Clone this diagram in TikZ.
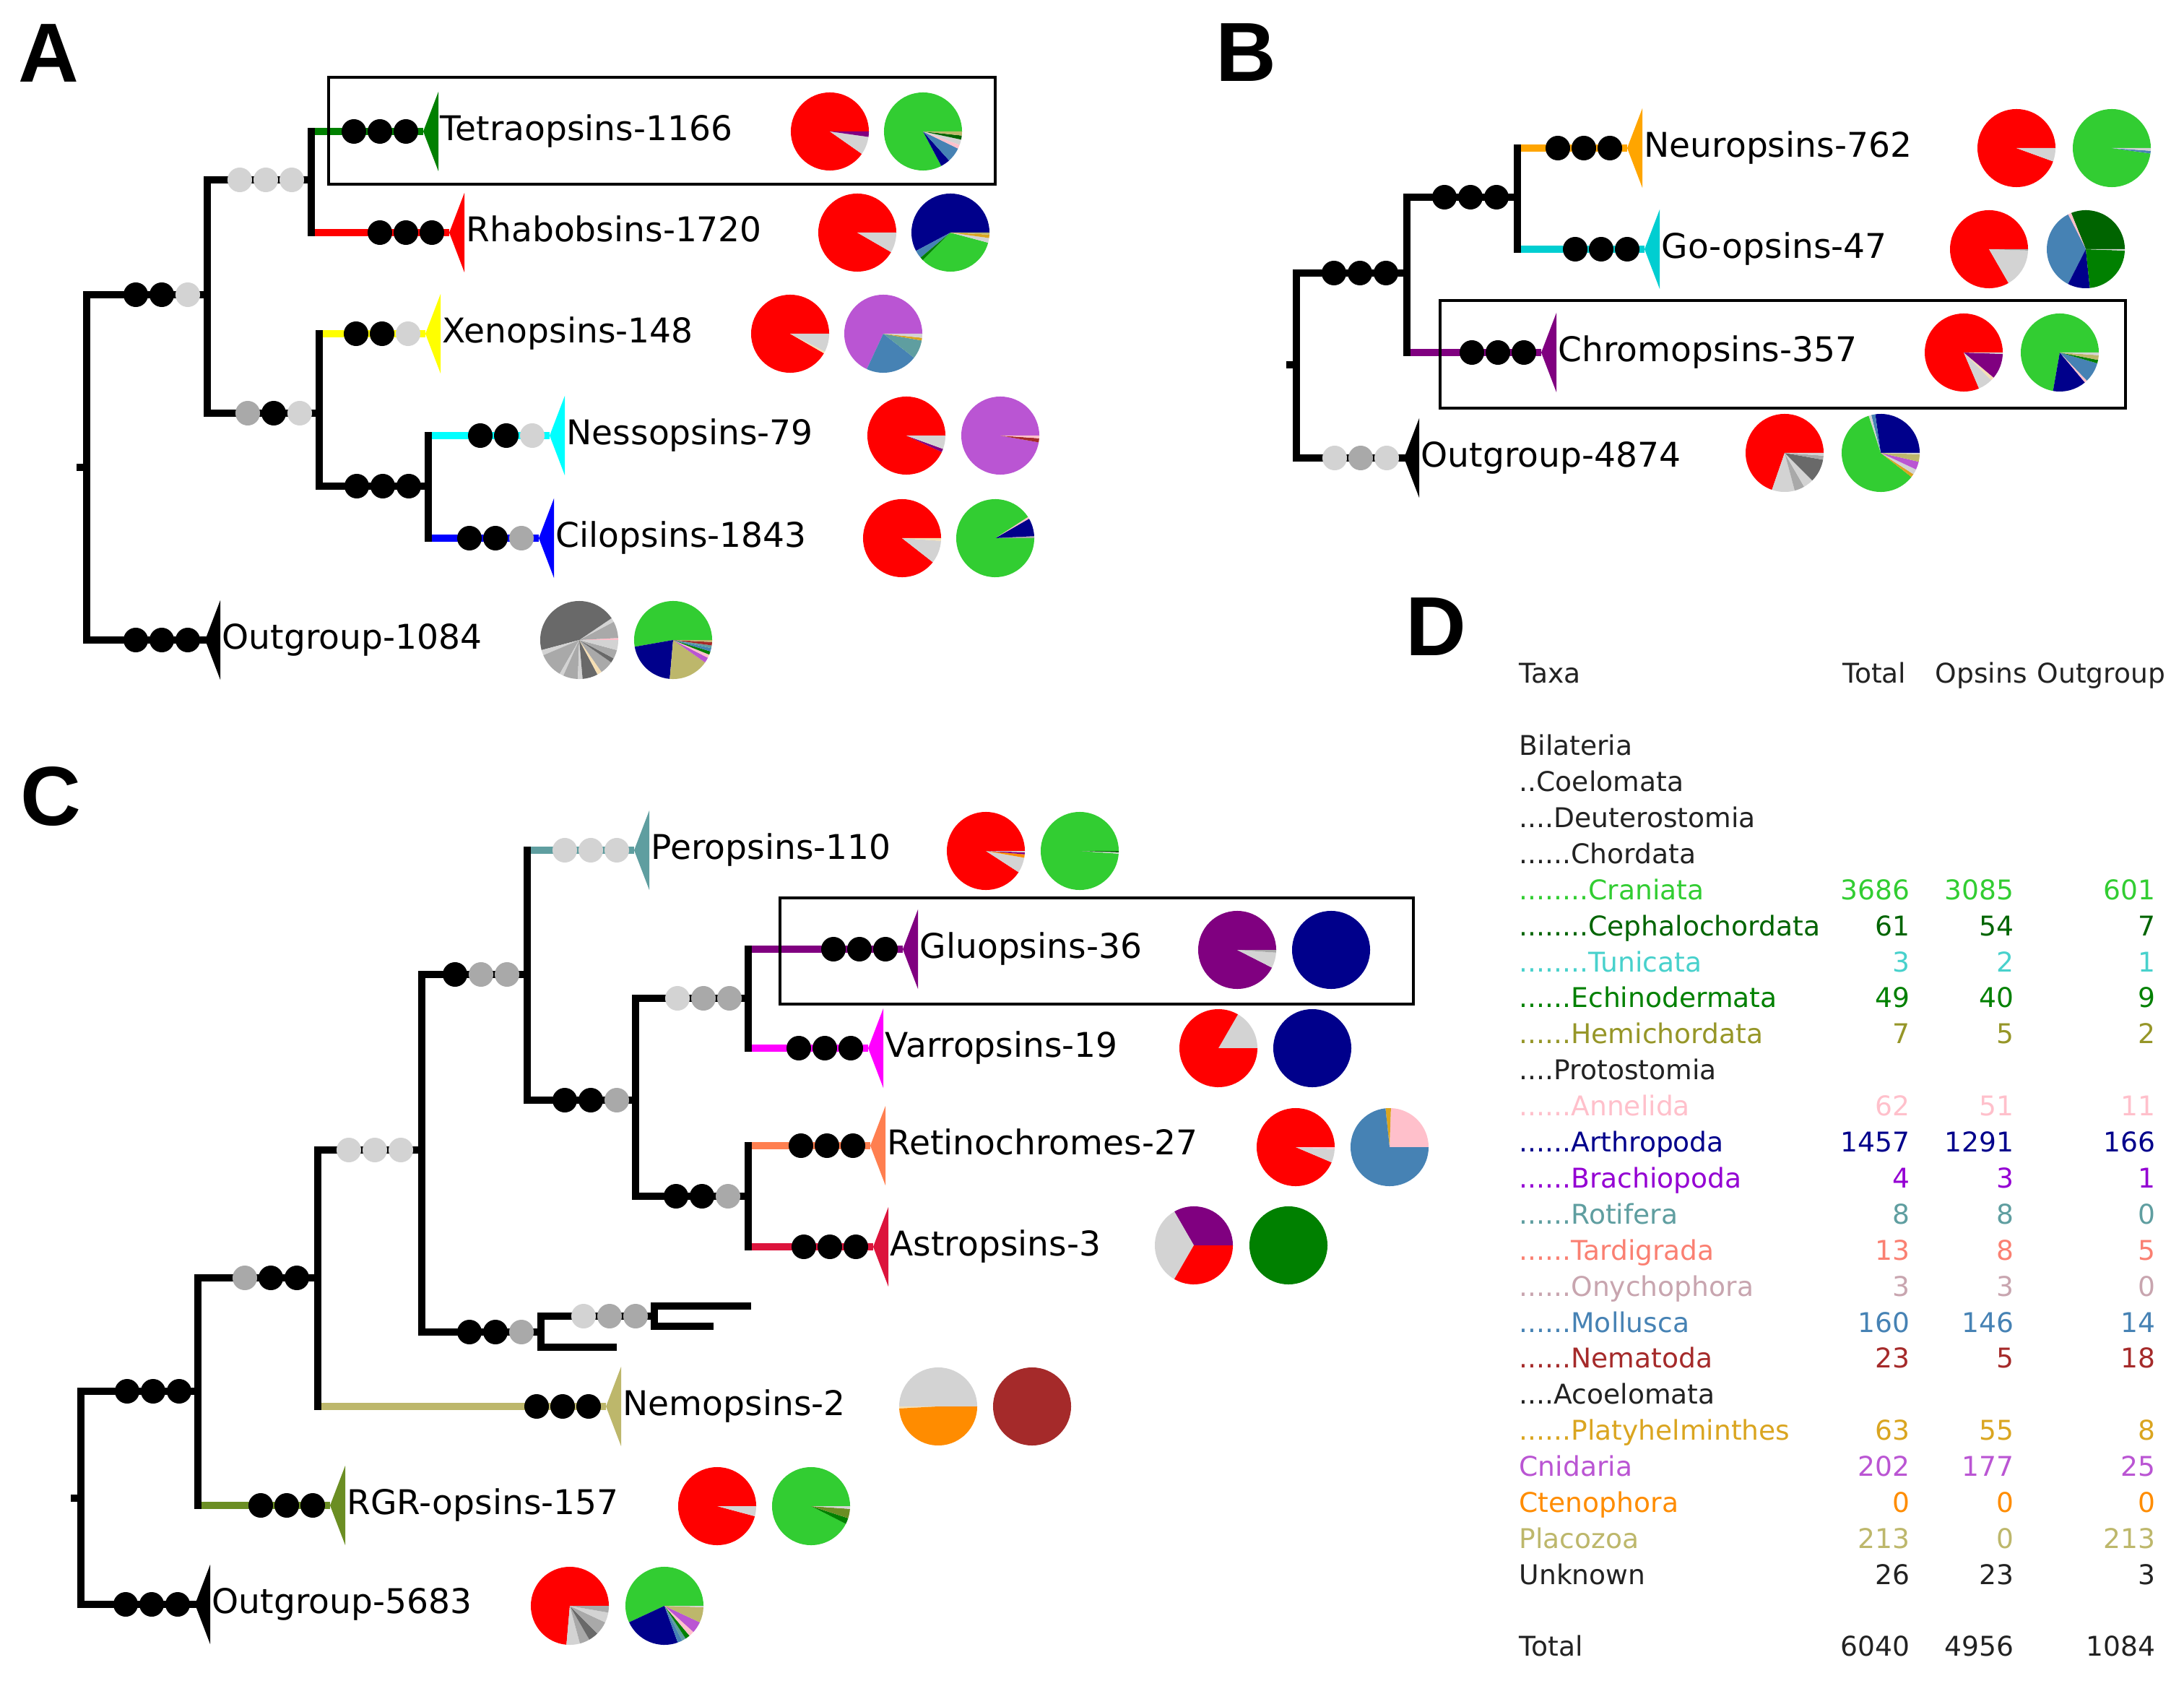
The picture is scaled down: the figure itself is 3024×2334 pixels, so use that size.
\documentclass[tikz,border=0pt]{standalone}
\usepackage{fontspec}
\setmainfont{DejaVu Sans}
\newfontfamily\panelfont{Liberation Sans}
\usepackage{xcolor}
\usetikzlibrary{calc}

\definecolor{tRed}{HTML}{FF0000}
\definecolor{tLime}{HTML}{32CD32}
\definecolor{tNavy}{HTML}{00008B}
\definecolor{tSteel}{HTML}{4682B4}
\definecolor{tOrchid}{HTML}{BA55D3}
\definecolor{tCadet}{HTML}{5F9EA0}
\definecolor{tGold}{HTML}{DAA520}
\definecolor{tPink}{HTML}{FFC0CB}
\definecolor{tBrown}{HTML}{A52A2A}
\definecolor{tPurple}{HTML}{800080}
\definecolor{tDkGreen}{HTML}{006400}
\definecolor{tGreen}{HTML}{008000}
\definecolor{tKhaki}{HTML}{BDB76B}
\definecolor{tOrange}{HTML}{FF8C00}
\definecolor{tLtOrange}{HTML}{FFA500}
\definecolor{tLtGray}{HTML}{D3D3D3}
\definecolor{tGray}{HTML}{A9A9A9}
\definecolor{tDimGray}{HTML}{696969}
\definecolor{tTan}{HTML}{F5DEB3}
\definecolor{tSalmon}{HTML}{FA8072}
\definecolor{tOlive}{HTML}{6B8E23}
\definecolor{tViolet}{HTML}{9400D3}
\definecolor{tTurq}{HTML}{00CED1}
\definecolor{tMedTurq}{HTML}{48D1CC}
\definecolor{tCyan}{HTML}{00FFFF}
\definecolor{tBlue}{HTML}{0000FF}
\definecolor{tYellow}{HTML}{FFFF00}
\definecolor{tMagenta}{HTML}{FF00FF}
\definecolor{tCoral}{HTML}{FF7F50}
\definecolor{tCrimson}{HTML}{DC143C}
\definecolor{tHemi}{RGB}{150,150,40}
\definecolor{tOnych}{RGB}{200,165,175}
\definecolor{tText}{HTML}{222222}

\tikzset{
  branch/.style={line width=0.1cm, line cap=rect},
  stem/.style={line width=0.1cm},
  leaflabel/.style={anchor=west, inner sep=0pt, text height=0.73em, text depth=0pt,
    font=\fontsize{13.4pt}{16pt}\selectfont},
  tablabel/.style={inner sep=0pt, text height=0.73em, text depth=0pt,
    font=\fontsize{10.7pt}{13pt}\selectfont},
  panel/.style={inner sep=0pt, font=\panelfont\bfseries\fontsize{33pt}{36pt}\selectfont},
  hibox/.style={draw=black, line width=0.04cm},
}

% tip triangle, dots before a node, pie from a list of start/end/colour
\newcommand{\tipmark}[2]{\fill[#2] (#1) -- ++(21,-55) -- ++(0,110) -- cycle;}
\newcommand{\dotrow}[5][24]{\foreach \dc [count=\di] in {#3,#4,#5}
  \fill[\dc] (#2) ++({-#1-36*(3-\di)},0) circle[radius=0.17cm];}
\newcommand{\drawpie}[2]{\foreach \pa/\pb/\pc in {#2}
  {\fill[\pc] #1 -- ++(\pa:0.54cm) arc[start angle=\pa, end angle=\pb, radius=0.54cm] -- cycle;}}

\begin{document}
\begin{tikzpicture}[x=0.01cm, y=-0.01cm]
\useasboundingbox (0,0) rectangle (3024,2334);

%%% A
\node[panel] (labA) at (67,74) {A};
\coordinate (a0) at (120,647);
\coordinate (a1) at (287,408);
\coordinate (a2) at (431,249);
\coordinate (a3) at (442,572);
\coordinate (a4) at (593,673);
\coordinate (tetra) at (586,182);
\coordinate (rhab) at (622,322);
\coordinate (xeno) at (589,462);
\coordinate (nesso) at (761,603);
\coordinate (cilo) at (746,745);
\coordinate (outA) at (284,886);
\draw[stem, tGreen] (a2 |- tetra) -- (tetra);
\draw[stem, tRed] (a2 |- rhab) -- (rhab);
\draw[stem, tYellow] (a3 |- xeno) -- (xeno);
\draw[stem, tCyan] (a4 |- nesso) -- (nesso);
\draw[stem, tBlue] (a4 |- cilo) -- (cilo);
\draw[branch] (a0) |- (a1);
\draw[branch] (a0) |- (outA);
\draw[branch] (a1) |- (a2);
\draw[branch] (a1) |- (a3);
\draw[branch] (a2 |- tetra) -- (a2 |- rhab);
\draw[branch] (a3 |- xeno) -- (a3);
\draw[branch] (a3) |- (a4);
\draw[branch] (a4 |- nesso) -- (a4 |- cilo);
\fill ([xshift=-0.14cm, yshift=0.05cm]a0) rectangle ([yshift=-0.05cm]a0);
\dotrow[27]{a1}{black}{black}{tLtGray}
\dotrow[27]{a2}{tLtGray}{tLtGray}{tLtGray}
\dotrow[27]{a3}{tGray}{black}{tLtGray}
\dotrow[27]{a4}{black}{black}{black}
\dotrow{tetra}{black}{black}{black}
\dotrow{rhab}{black}{black}{black}
\dotrow{xeno}{black}{black}{tLtGray}
\dotrow{nesso}{black}{black}{tLtGray}
\dotrow{cilo}{black}{black}{tGray}
\dotrow{outA}{black}{black}{black}
\tipmark{tetra}{tGreen}
\tipmark{rhab}{tRed}
\tipmark{xeno}{tYellow}
\tipmark{nesso}{tCyan}
\tipmark{cilo}{tBlue}
\tipmark{outA}{black}
\node[leaflabel] (tetraT) at ([xshift=0.23cm]tetra) {Tetraopsins-1166};
\node[leaflabel] (rhabT) at ([xshift=0.23cm]rhab) {Rhabobsins-1720};
\node[leaflabel] (xenoT) at ([xshift=0.23cm]xeno) {Xenopsins-148};
\node[leaflabel] (nessoT) at ([xshift=0.23cm]nesso) {Nessopsins-79};
\node[leaflabel] (ciloT) at ([xshift=0.23cm]cilo) {Cilopsins-1843};
\node[leaflabel] (outAT) at ([xshift=0.23cm]outA) {Outgroup-1084};
\drawpie{(1149,182)}{0/325/tRed, 325/352/tLtGray, 352/360/tPurple}
\drawpie{(1278,182)}{0/298/tLime, 298/312/tNavy, 312/334/tSteel, 334/340/tPink, 340/348/tLtGray, 348/354/tDkGreen, 354/360/tKhaki}
\drawpie{(1187,322)}{0/330/tRed, 330/360/tLtGray}
\drawpie{(1316,322)}{0/208/tNavy, 208/220/tSteel, 220/225/tGreen, 225/345/tLime, 345/352/tLtGray, 352/357/tGold, 357/360/tKhaki}
\drawpie{(1094,462)}{0/330/tRed, 330/333/tTan, 333/360/tLtGray}
\drawpie{(1223,462)}{0/245/tOrchid, 245/322/tSteel, 322/350/tCadet, 350/354/tGold, 354/360/tLtGray}
\drawpie{(1255,603)}{0/335/tRed, 335/340/tPurple, 340/360/tLtGray}
\drawpie{(1385,603)}{0/350/tOrchid, 350/356/tBrown, 356/360/tPink}
\drawpie{(1249,745)}{0/322/tRed, 322/356/tLtGray, 356/360/tTan}
\drawpie{(1378,745)}{0/3/tGray, 3/30/tNavy, 30/33/tPink, 33/360/tLime}
\drawpie{(802,886)}{0/3/tPink, 3/28/tGray, 28/34/tLtGray, 34/195/tDimGray, 195/203/tLtGray, 203/240/tGray, 240/246/tLtGray, 246/268/tGray, 268/275/tLtGray, 275/298/tDimGray, 298/305/tTan, 305/325/tGray, 325/332/tDimGray, 332/345/tGray, 345/360/tLtGray}
\drawpie{(932,886)}{0/190/tLime, 190/265/tNavy, 265/325/tKhaki, 325/333/tOrchid, 333/338/tPink, 338/343/tGreen, 343/348/tSteel, 348/352/tCadet, 352/357/tBrown, 357/360/tKhaki}
\draw[hibox] (455,107) rectangle (1378,255);

%%% B
\node[panel] (labB) at (1725,73) {B};
\coordinate (b0) at (1795,505);
\coordinate (b1) at (1948,378);
\coordinate (b2) at (2101,273);
\coordinate (neuro) at (2253,205);
\coordinate (goop) at (2277,345);
\coordinate (chromo) at (2134,488);
\coordinate (outB) at (1944,634);
\draw[stem, tLtOrange] (b2 |- neuro) -- (neuro);
\draw[stem, tTurq] (b2 |- goop) -- (goop);
\draw[stem, tPurple] (b1 |- chromo) -- (chromo);
\draw[branch] (b0) |- (b1);
\draw[branch] (b0) |- (outB);
\draw[branch] (b1) |- (b2);
\draw[branch] (b1) -- (b1 |- chromo);
\draw[branch] (b2 |- neuro) -- (b2 |- goop);
\fill ([xshift=-0.14cm, yshift=0.05cm]b0) rectangle ([yshift=-0.05cm]b0);
\dotrow[29]{b1}{black}{black}{black}
\dotrow[29]{b2}{black}{black}{black}
\dotrow{neuro}{black}{black}{black}
\dotrow{goop}{black}{black}{black}
\dotrow{chromo}{black}{black}{black}
\dotrow{outB}{tLtGray}{tGray}{tLtGray}
\tipmark{neuro}{tLtOrange}
\tipmark{goop}{tTurq}
\tipmark{chromo}{tPurple}
\tipmark{outB}{black}
\node[leaflabel] (neuroT) at ([xshift=0.23cm]neuro) {Neuropsins-762};
\node[leaflabel] (goopT) at ([xshift=0.23cm]goop) {Go-opsins-47};
\node[leaflabel] (chromoT) at ([xshift=0.23cm]chromo) {Chromopsins-357};
\node[leaflabel] (outBT) at ([xshift=0.23cm]outB) {Outgroup-4874};
\drawpie{(2792,205)}{0/340/tRed, 340/360/tLtGray}
\drawpie{(2924,205)}{0/352/tLime, 352/356/tSteel, 356/360/tLtGray}
\drawpie{(2754,345)}{0/300/tRed, 300/358/tLtGray, 358/360/tGray}
\drawpie{(2888,345)}{0/112/tDkGreen, 112/117/tPink, 117/243/tSteel, 243/276/tNavy, 276/358/tGreen, 358/360/tLtGray}
\drawpie{(2719,488)}{0/293/tRed, 293/315/tLtGray, 315/320/tTan, 320/358/tPurple, 358/360/tLtGray}
\drawpie{(2852,488)}{0/260/tLime, 260/310/tNavy, 310/314/tPink, 314/344/tSteel, 344/349/tGreen, 349/356/tKhaki, 356/360/tLtGray}
\drawpie{(2471,627)}{0/251/tRed, 251/285/tLtGray, 285/300/tGray, 300/315/tLtGray, 315/350/tDimGray, 350/356/tGray, 356/360/tLtGray}
\drawpie{(2604,627)}{0/98/tNavy, 98/104/tSteel, 104/108/tLtGray, 108/322/tLime, 322/327/tGold, 327/335/tLtGray, 335/347/tOrchid, 347/358/tKhaki, 358/360/tLtGray}
\draw[hibox] (1994,416) rectangle (2943,565);

%%% C
\node[panel] (labC) at (70,1103) {C};
\coordinate (c0) at (112,2074);
\coordinate (c1) at (274,1926);
\coordinate (c2) at (440,1769);
\coordinate (c3) at (584,1592);
\coordinate (c4) at (730,1349);
\coordinate (c5) at (880,1523);
\coordinate (c6) at (1036,1382);
\coordinate (c7) at (1036,1656);
\coordinate (c8) at (749,1844);
\coordinate (c9) at (906,1822);
\coordinate (cx1) at (1035,1808);
\coordinate (cx2) at (983,1836);
\coordinate (cx3) at (849,1865);
\coordinate (pero) at (878,1177);
\coordinate (gluo) at (1250,1314);
\coordinate (varro) at (1202,1451);
\coordinate (retino) at (1205,1586);
\coordinate (astro) at (1209,1726);
\coordinate (nemo) at (839,1947);
\coordinate (rgr) at (457,2084);
\coordinate (outC) at (270,2221);
\draw[stem, tCadet] (c4 |- pero) -- (pero);
\draw[stem, tPurple] (c6 |- gluo) -- (gluo);
\draw[stem, tMagenta] (c6 |- varro) -- (varro);
\draw[stem, tCoral] (c7 |- retino) -- (retino);
\draw[stem, tCrimson] (c7 |- astro) -- (astro);
\draw[stem, tKhaki] (c2 |- nemo) -- (nemo);
\draw[stem, tOlive] (c1 |- rgr) -- (rgr);
\draw[branch] (c0) |- (c1);
\draw[branch] (c0) |- (outC);
\draw[branch] (c1) |- (c2);
\draw[branch] (c1) -- (c1 |- rgr);
\draw[branch] (c2) |- (c3);
\draw[branch] (c2) -- (c2 |- nemo);
\draw[branch] (c3) |- (c4);
\draw[branch] (c3) |- (c8);
\draw[branch] (c4 |- pero) -- (c4);
\draw[branch] (c4) |- (c5);
\draw[branch] (c5) |- (c6);
\draw[branch] (c5) |- (c7);
\draw[branch] (c6 |- gluo) -- (c6 |- varro);
\draw[branch] (c7 |- retino) -- (c7 |- astro);
\draw[branch] (c8) |- (c9);
\draw[branch] (c8) |- (cx3);
\draw[branch] (c9) |- (cx1);
\draw[branch] (c9) |- (cx2);
\fill ([xshift=-0.14cm, yshift=0.05cm]c0) rectangle ([yshift=-0.05cm]c0);
\dotrow[26]{c1}{black}{black}{black}
\dotrow[29]{c2}{tGray}{black}{black}
\dotrow[29]{c3}{tLtGray}{tLtGray}{tLtGray}
\dotrow[28]{c4}{black}{tGray}{tGray}
\dotrow[26]{c5}{black}{black}{tGray}
\dotrow[26]{c6}{tLtGray}{tGray}{tGray}
\dotrow[28]{c7}{black}{black}{tGray}
\dotrow[27]{c8}{black}{black}{tGray}
\dotrow[26]{c9}{tLtGray}{tGray}{tGray}
\dotrow{pero}{tLtGray}{tLtGray}{tLtGray}
\dotrow{gluo}{black}{black}{black}
\dotrow{varro}{black}{black}{black}
\dotrow{retino}{black}{black}{black}
\dotrow{astro}{black}{black}{black}
\dotrow{nemo}{black}{black}{black}
\dotrow{rgr}{black}{black}{black}
\dotrow{outC}{black}{black}{black}
\tipmark{pero}{tCadet}
\tipmark{gluo}{tPurple}
\tipmark{varro}{tMagenta}
\tipmark{retino}{tCoral}
\tipmark{astro}{tCrimson}
\tipmark{nemo}{tKhaki}
\tipmark{rgr}{tOlive}
\tipmark{outC}{black}
\node[leaflabel] (peroT) at ([xshift=0.23cm]pero) {Peropsins-110};
\node[leaflabel] (gluoT) at ([xshift=0.23cm]gluo) {Gluopsins-36};
\node[leaflabel] (varroT) at ([xshift=0.23cm]varro) {Varropsins-19};
\node[leaflabel] (retinoT) at ([xshift=0.23cm]retino) {Retinochromes-27};
\node[leaflabel] (astroT) at ([xshift=0.23cm]astro) {Astropsins-3};
\node[leaflabel] (nemoT) at ([xshift=0.23cm]nemo) {Nemopsins-2};
\node[leaflabel] (rgrT) at ([xshift=0.23cm]rgr) {RGR-opsins-157};
\node[leaflabel] (outCT) at ([xshift=0.23cm]outC) {Outgroup-5683};
\drawpie{(1365,1178)}{0/327/tRed, 327/350/tLtGray, 350/355/tOrange, 355/358/tPurple, 358/360/tLtGray}
\drawpie{(1495,1178)}{0/356/tLime, 356/358/tLtGray, 358/360/tDkGreen}
\drawpie{(1713,1315)}{0/333/tPurple, 333/356/tLtGray, 356/360/tGray}
\fill[tNavy] (1843,1315) circle[radius=0.54cm];
\drawpie{(1687,1451)}{0/60/tLtGray, 60/360/tRed}
\fill[tNavy] (1817,1451) circle[radius=0.54cm];
\drawpie{(1794,1588)}{0/337/tRed, 337/357/tLtGray, 357/360/tPink}
\drawpie{(1924,1588)}{0/88/tPink, 88/96/tGold, 96/360/tSteel}
\drawpie{(1653,1724)}{0/120/tPurple, 120/240/tLtGray, 240/360/tRed}
\fill[tGreen] (1784,1724) circle[radius=0.54cm];
\drawpie{(1299,1947)}{0/180/tLtGray, 180/183/tTan, 183/360/tOrange}
\fill[tBrown] (1429,1947) circle[radius=0.54cm];
\drawpie{(993,2085)}{0/345/tRed, 345/360/tLtGray}
\drawpie{(1123,2085)}{0/333/tLime, 333/342/tGreen, 342/356/tOlive, 356/360/tLtGray}
\drawpie{(789,2223)}{0/265/tRed, 265/285/tLtGray, 285/300/tGray, 300/315/tDimGray, 315/335/tGray, 335/350/tLtGray, 350/360/tGray}
\drawpie{(920,2223)}{0/205/tLime, 205/290/tNavy, 290/297/tSteel, 297/303/tCadet, 303/310/tGreen, 310/318/tPink, 318/335/tOrchid, 335/358/tKhaki, 358/360/tLtGray}
\draw[hibox] (1080,1243) rectangle (1957,1390);

%%% D
\node[panel] (labD) at (1988,868) {D};
\node[tablabel, anchor=west, text=tText] (hTaxa) at (2103,933) {Taxa};
\node[tablabel, anchor=east, text=tText] (hTot) at (2640,933) {Total};
\node[tablabel, anchor=west, text=tText] (hOps) at (2679,933) {Opsins};
\node[tablabel, anchor=west, text=tText] (hOut) at (2820,933) {Outgroup};
\foreach \nname/\ntot/\nops/\nout/\ncol [count=\k from 2] in {
  {Bilateria}////tText, {..Coelomata}////tText, {....Deuterostomia}////tText, {......Chordata}////tText,
  {........Craniata}/3686/3085/601/tLime, {........Cephalochordata}/61/54/7/tDkGreen,
  {........Tunicata}/3/2/1/tMedTurq, {......Echinodermata}/49/40/9/tGreen,
  {......Hemichordata}/7/5/2/tHemi, {....Protostomia}////tText,
  {......Annelida}/62/51/11/tPink, {......Arthropoda}/1457/1291/166/tNavy,
  {......Brachiopoda}/4/3/1/tViolet, {......Rotifera}/8/8/0/tCadet,
  {......Tardigrada}/13/8/5/tSalmon, {......Onychophora}/3/3/0/tOnych,
  {......Mollusca}/160/146/14/tSteel, {......Nematoda}/23/5/18/tBrown,
  {....Acoelomata}////tText, {......Platyhelminthes}/63/55/8/tGold,
  {Cnidaria}/202/177/25/tOrchid, {Ctenophora}/0/0/0/tOrange,
  {Placozoa}/213/0/213/tKhaki, {Unknown}/26/23/3/tText} {
  \node[tablabel, anchor=west, text=\ncol] (nm\k) at (2103,{933+49.9*\k}) {\nname};
  \node[tablabel, anchor=east, text=\ncol] (tot\k) at (2645,{933+49.9*\k}) {\ntot};
  \node[tablabel, anchor=east, text=\ncol] (ops\k) at (2789,{933+49.9*\k}) {\nops};
  \node[tablabel, anchor=east, text=\ncol] (out\k) at (2985,{933+49.9*\k}) {\nout};
}
\node[tablabel, anchor=west, text=tText] (nmT) at (2103,2280) {Total};
\node[tablabel, anchor=east, text=tText] (totT) at (2645,2280) {6040};
\node[tablabel, anchor=east, text=tText] (opsT) at (2789,2280) {4956};
\node[tablabel, anchor=east, text=tText] (outT) at (2985,2280) {1084};
\end{tikzpicture}
\end{document}
